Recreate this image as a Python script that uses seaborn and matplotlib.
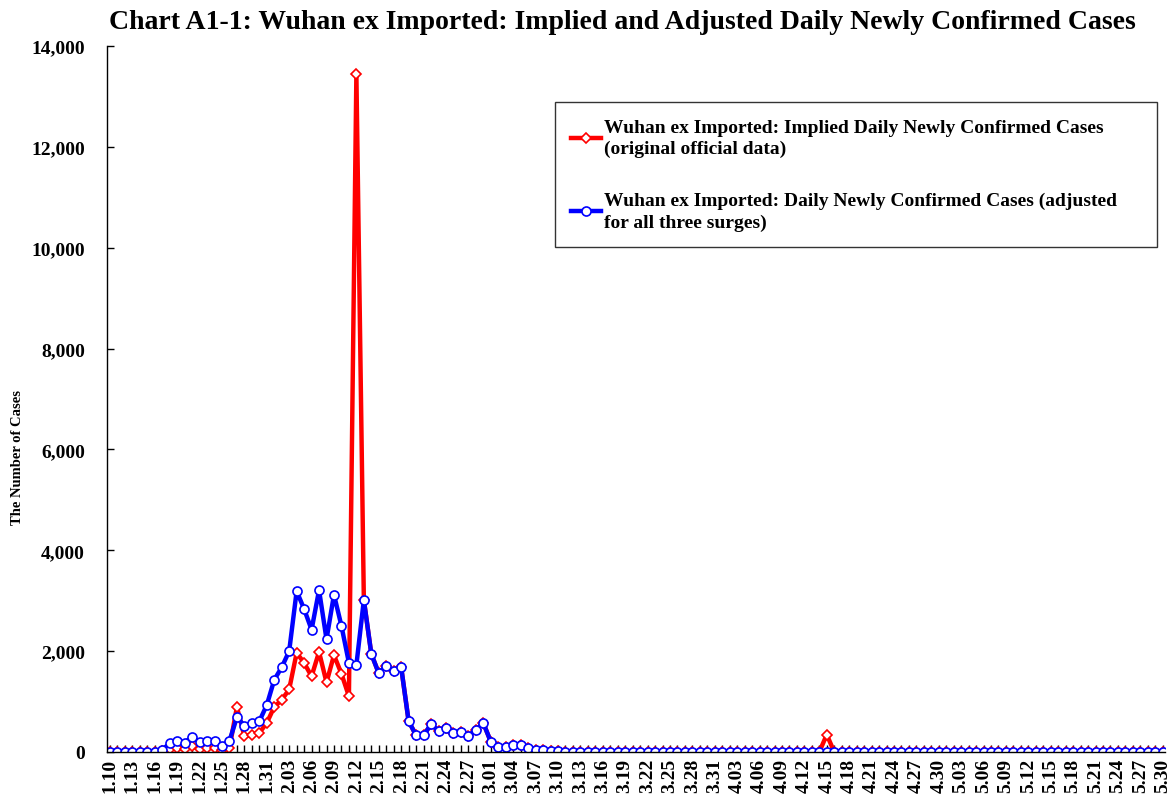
import seaborn as sns
import matplotlib.pyplot as plt
from matplotlib.ticker import FuncFormatter, MultipleLocator
import pandas as pd
import numpy as np

# daily dates 2020-01-10 .. 2020-05-30
dates = pd.date_range('2020-01-10', '2020-05-30', freq='D')
date_labels = [f'{d.month}.{d.day:02d}' for d in dates]

# Wuhan ex imported: daily newly confirmed, adjusted for all three surges
adjusted = ([0, 0, 0, 0, 0, 0, 0, 45, 170, 210, 185, 300, 190, 210, 210, 125, 220,
             690, 520, 575, 610, 930, 1430, 1680, 2000, 3190, 2835, 2425, 3210, 2235,
             3120, 2500, 1770, 1725, 3015, 1945, 1560, 1710, 1605, 1680, 610, 330, 330,
             550, 420, 470, 385, 395, 325, 430, 575, 205, 105, 105, 140, 140, 70, 40,
             35, 17, 13, 8, 5, 4, 4, 4, 1, 1]
            + [0] * 74)

# implied daily newly confirmed (original official data)
implied = ([0, 0, 0, 0, 0, 0, 0, 20, 60, 80, 60, 120, 60, 80, 80, 40, 80,
            892, 315, 345, 378, 576, 894, 1033, 1242, 1967, 1766, 1501, 1985, 1379,
            1921, 1552, 1104, 13436, 3015, 1945, 1560, 1710, 1605, 1680, 610, 330, 330,
            550, 420, 470, 385, 395, 325, 430, 575, 205, 105, 105, 140, 140, 70, 40,
            35, 17, 13, 8, 5, 4, 4, 4, 1, 1]
           + [0] * 28 + [345] + [0] * 45)

df = pd.DataFrame({'day': np.arange(len(dates)), 'implied': implied, 'adjusted': adjusted})

settings = {'font.family': ['Liberation Serif', 'DejaVu Serif'], 'font.weight': 'bold',
            'axes.labelweight': 'bold', 'axes.titleweight': 'bold',
            'xtick.direction': 'in', 'ytick.direction': 'in'}

with plt.rc_context(settings):
    fig = plt.figure(figsize=(11.69, 8.03), dpi=100)
    ax = fig.add_axes([107/1169, 1 - 753/803, 1058/1169, 706/803])

    sns.lineplot(data=df, x='day', y='implied', ax=ax, color='#ff0000', lw=3.2,
                 marker='D', markersize=5.5, markerfacecolor='white', markeredgecolor='#ff0000',
                 markeredgewidth=1.2, label='Wuhan ex Imported: Implied Daily Newly Confirmed Cases\n(original official data)')
    sns.lineplot(data=df, x='day', y='adjusted', ax=ax, color='#0000ff', lw=3.2,
                 marker='o', markersize=6.5, markerfacecolor='white', markeredgecolor='#0000ff',
                 markeredgewidth=1.2, label='Wuhan ex Imported: Daily Newly Confirmed Cases (adjusted\nfor all three surges)')

    ax.set_xlim(-0.4, len(dates) - 0.7)
    ax.set_ylim(0, 14000)
    ax.yaxis.set_major_locator(MultipleLocator(2000))
    ax.yaxis.set_major_formatter(FuncFormatter(lambda v, p: f'{int(v):,}'))
    ax.set_xticks(df.day[::3])
    ax.set_xticklabels(date_labels[::3], rotation=90)
    ax.xaxis.set_minor_locator(MultipleLocator(1))
    ax.tick_params(axis='x', which='both', length=5, width=1, labelsize=14, pad=4)
    ax.tick_params(axis='y', length=5, width=1, labelsize=14, pad=16)

    for s in ['top', 'right']:
        ax.spines[s].set_visible(False)
    ax.spines['left'].set_linewidth(1)
    ax.spines['bottom'].set_linewidth(1)

    ax.set_xlabel('')
    ax.set_ylabel('The Number of Cases', fontsize=10.5)
    ax.yaxis.set_label_coords(-0.078, 0.418)
    fig.suptitle('Chart A1-1: Wuhan ex Imported: Implied and Adjusted Daily Newly Confirmed Cases',
                 fontsize=20, fontweight='bold', x=0.532, y=0.988)

    leg = ax.legend(loc='upper left', bbox_to_anchor=(0.4234, 0.7096, 0.5690, 0.2111), mode='expand',
                    fontsize=14, frameon=True, fancybox=False, edgecolor='black', labelspacing=1.75,
                    handlelength=1.5, handletextpad=0.15, borderpad=0.85, borderaxespad=0)
    leg.get_frame().set_linewidth(1)
    for t in leg.get_texts():
        t.set_linespacing(1.35)

    plt.savefig('out.png', dpi=100)
    plt.close()
